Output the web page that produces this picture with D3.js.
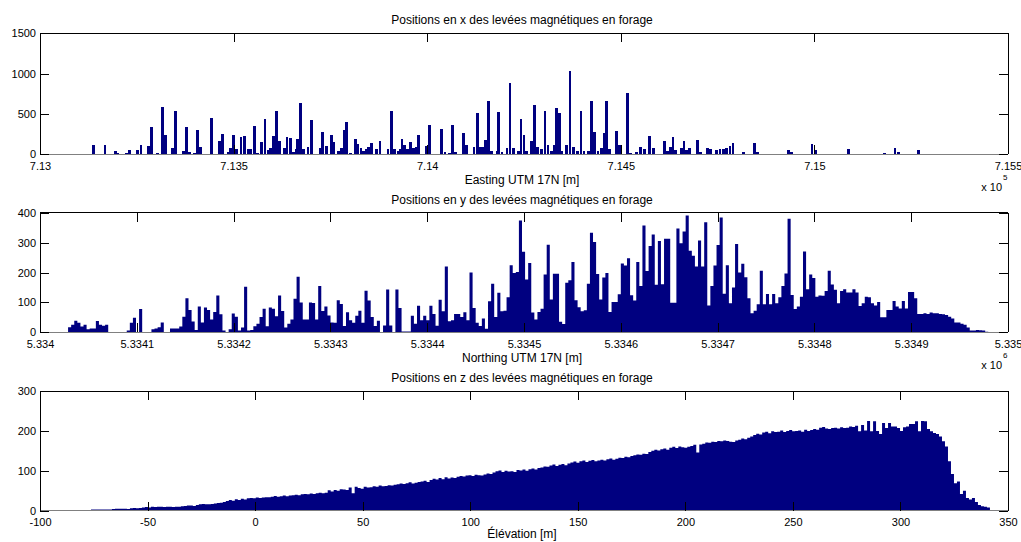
<!DOCTYPE html>
<html><head><meta charset="utf-8">
<script src="https://cdn.jsdelivr.net/npm/d3@7"></script>
<style>
body{margin:0;background:#fff}
text{font-family:"Liberation Sans",Arial,Helvetica,sans-serif;fill:#000}
</style>
</head><body>
<svg id="chart" width="1021" height="542"></svg>
<script>
// ---------- Panel 1 : Easting (sparse histogram, bin centres in m) ----------
const eastBinWidth = 7.15;
const eastCenters = [713139,713168,713195,713201,713224,713232,713252,713261,713280,713288,713303,713316,713324,713343,713350,713371,713379,713387,713400,713407,713415,713443,713464,713472,713486,713492,713499,713507,713519,713529,713537,713544,713553,713561,713573,713581,713589,713595,713603,713610,713618,713631,713638,713646,713654,713661,713666,713673,713681,713692,713702,713723,713730,713739,713752,713759,713770,
713778,713785,713792,713801,713814,713821,713829,713836,713842,713849,713857,713870,713878,713899,713907,713915,713925,713931,713935,713942,713949,713956,713964,713971,713978,713997,714005,714037,714046,714058,714066,714073,714093,714101,714121,714130,714137,714144,714150,714158,714166,714181,714185,714193,714206,714214,714222,714235,714242,714250,714257,714269,714277,714284,714295,714304,714312,714321,714328,714334,714341,714348,714360,714369,714377,714388,714397,714405,714417,714425,714433,714441,714451,714457,714463,714470,714489,714497,714518,714526,714541,714550,714562,714575,714584,714612,714621,
714629,714635,714642,714656,714663,714670,714678,714698,714706,714723,714731,714747,714756,714765,714773,714782,714790,714816,714846,714854,714934,714941,714994,715002,715089,715182,715208,715217,715268];
const eastCounts = [108,110,37,15,15,50,50,110,100,330,15,590,230,75,540,35,330,25,15,295,85,450,160,245,25,75,230,60,210,220,65,60,350,15,155,440,45,75,225,540,165,80,210,200,25,65,190,640,60,85,420,80,270,100,230,150,35,
75,295,400,12,190,130,75,33,58,83,137,58,157,58,534,58,33,66,190,116,58,150,75,87,232,100,356,306,25,17,356,25,265,108,91,513,91,87,170,662,33,33,522,25,75,886,75,33,430,240,33,157,604,87,58,538,108,33,116,571,513,33,108,1027,87,33,538,33,33,662,273,33,75,265,654,66,282,116,762,12,25,83,58,220,75,166,33,
91,207,50,70,166,50,70,174,29,79,58,54,62,62,79,100,132,29,141,25,50,29,124,50,66,17,70,29,50];
const eastTicks = [713000,713500,714000,714500,715000,715500];
const eastTickLabels = ["7.13","7.135","7.14","7.145","7.15","7.155"];
const eastCountTicks = [0,500,1000,1500];

// ---------- Panel 2 : Northing (contiguous histogram) ----------
const northStart = 5334029;
const northBinWidth = 3.19;
const northCounts = [17,25,39,32,19,25,10,13,13,38,25,22,25,0,0,0,0,0,0,6,32,49,0,78,0,0,0,10,13,17,33,0,0,13,13,13,19,52,114,75,36,8,86,33,83,75,43,68,123,60,6,0,10,63,52,6,16,152,6,8,20,29,51,79,20,83,79,54,123,71,16,29,43,112,186,100,43,43,100,98,43,155,71,86,56,33,
32,107,95,21,67,40,32,55,72,32,139,106,51,21,39,0,23,143,23,0,143,81,3,3,3,55,29,89,40,55,40,89,61,22,109,70,220,37,40,61,61,51,67,40,200,81,32,21,46,12,104,162,51,132,70,72,117,224,198,202,374,269,177,232,66,43,68,79,193,293,110,196,196,35,28,166,174,235,107,84,70,74,162,333,302,195,110,183,198,68,101,101,127,230,223,248,124,106,235,155,357,205,289,327,159,305,161,313,313,
99,99,347,298,337,391,273,256,220,307,220,368,90,155,223,292,384,129,224,97,150,295,200,229,184,114,64,72,94,206,94,128,94,128,97,117,155,197,380,125,78,86,119,270,144,193,182,119,123,122,138,206,160,142,97,138,144,133,133,144,133,88,97,119,117,97,90,101,50,50,75,75,105,86,80,105,80,135,135,114,61,61,64,61,66,64,64,61,60,58,52,46,33,33,29,25,16,6,6,8,7,6,2];
const northTicks = [5334000,5334100,5334200,5334300,5334400,5334500,5334600,5334700,5334800,5334900,5335000];
const northTickLabels = ["5.334","5.3341","5.3342","5.3343","5.3344","5.3345","5.3346","5.3347","5.3348","5.3349","5.335"];
const northCountTicks = [0,100,200,300,400];

// ---------- Panel 3 : Elevation (contiguous histogram) ----------
const elevStart = -76.3;
const elevBinWidth = 1.393;
const elevCounts = [3,3,3,3,3,3,3,4,5,5, 5,5,4,6,7,6,7,8,9,8, 10,9,10,10,9,10,10,9,10,10, 11,12,13,13,12,14,16,17,16,16,
17,18,19,20,22,24,27,25,29,27, 30,28,31,32,31,33,32,33,34,34, 35,37,35,36,38,36,38,39,40,39, 41,42,41,43,42,44,45,44,
45,51,48,52,50,54,53,52,58,44,60,57, 55,60,58,59,61,60,63,61,62,64, 63,65,66,68,67,69,71,68,70,72, 73,75,72,77,80,78,82,79,84,81,
83,82,85,87,86,88,89,87,90,89, 88,91,93,92,96,99,101,97,100,98, 99,97,102,101,103,100,104,106,103,107, 108,111,110,113,116,112,115,117,114,118,
121,123,120,124,126,122,125,127,124,126, 128,126,129,131,128,130,133,132,135,134, 137,139,141,140,143,142,147,150,153,151, 154,156,153,158,160,157,161,159,158,160,
162,165,146,166,168,171,170,173,172,175, 174,176,175,173,172,176,178,181,179,183, 186,190,193,191,196,198,194,199,197,198, 201,197,200,202,199,200,201,198,203,200,
202,205,203,208,210,206,205,207,208,206, 209,207,208,211,210,213,
199,215,201,225,199,224,200,192,220,207,220,211,211,207,200,209,211,217,217,224,199,225,224,205,199,195,192,186,174,161,124,92,69,73,42,50,32,28,32,22,14,11,10,8];
const elevTicks = [-100,-50,0,50,100,150,200,250,300,350];
const elevTickLabels = ["-100","-50","0","50","100","150","200","250","300","350"];
const elevCountTicks = [0,100,200,300];

// ---------- Texts ----------
const titles = ["Positions en x des levées magnétiques en forage","Positions en y des levées magnétiques en forage","Positions en z des levées magnétiques en forage"];
const xLabels = ["Easting UTM 17N [m]","Northing UTM 17N [m]","Élévation [m]"];
const exponents = ["5","6",null];

// ---------- Drawing ----------
const svg = d3.select("#chart");
const L = 40, R = 1008;
const BAR = "#000080";
const FONT = 11;
const LABEL_FONT = 12;

function drawPanel(cfg, idx) {
  const x = d3.scaleLinear().domain(cfg.xDomain).range([L, R]);
  const y = d3.scaleLinear().domain([0, cfg.yMax]).range([cfg.bottom, cfg.top]);
  const g = svg.append("g");

  cfg.bars(g, x, y);

  // box
  const box = g.append("g").attr("shape-rendering", "crispEdges");
  box.append("line").attr("x1", L).attr("x2", R).attr("y1", cfg.top).attr("y2", cfg.top).attr("stroke", "#000");
  box.append("line").attr("x1", L).attr("x2", L).attr("y1", cfg.top).attr("y2", cfg.bottom).attr("stroke", "#000");
  box.append("line").attr("x1", R).attr("x2", R).attr("y1", cfg.top).attr("y2", cfg.bottom).attr("stroke", "#000");
  box.append("line").attr("x1", L).attr("x2", R).attr("y1", y(0)).attr("y2", y(0)).attr("stroke", "#808080");

  const style = s => s.attr("font-size", FONT).attr("font-family", "Liberation Sans, Arial, sans-serif").attr("shape-rendering", "crispEdges");

  const bottomAx = g.append("g").attr("transform", `translate(0,${cfg.bottom})`)
    .call(d3.axisBottom(x).tickValues(cfg.xTicks).tickFormat((d, i) => cfg.xTickLabels[i]).tickSize(-9).tickSizeOuter(0).tickPadding(8));
  style(bottomAx); bottomAx.select(".domain").remove();

  const topAx = g.append("g").attr("transform", `translate(0,${cfg.top})`)
    .call(d3.axisTop(x).tickValues(cfg.xTicks).tickFormat("").tickSize(-9).tickSizeOuter(0));
  style(topAx); topAx.select(".domain").remove();

  const leftAx = g.append("g").attr("transform", `translate(${L},0)`)
    .call(d3.axisLeft(y).tickValues(cfg.yTicks).tickFormat(d3.format("d")).tickSize(-9).tickSizeOuter(0).tickPadding(4));
  style(leftAx); leftAx.select(".domain").remove();

  const rightAx = g.append("g").attr("transform", `translate(${R},0)`)
    .call(d3.axisRight(y).tickValues(cfg.yTicks).tickFormat("").tickSize(-9).tickSizeOuter(0));
  style(rightAx); rightAx.select(".domain").remove();

  // title
  g.append("text").attr("x", (L + R) / 2 - 2).attr("y", cfg.top - 9).attr("text-anchor", "middle")
    .attr("font-size", LABEL_FONT).text(titles[idx]);
  // x label
  g.append("text").attr("x", (L + R) / 2 - 2).attr("y", cfg.bottom + cfg.labelGap).attr("text-anchor", "middle")
    .attr("font-size", LABEL_FONT).text(xLabels[idx]);
  // exponent
  if (exponents[idx]) {
    g.append("text").attr("x", 1002).attr("y", cfg.bottom + 37).attr("text-anchor", "end")
      .attr("font-size", FONT).text("x 10");
    g.append("text").attr("x", 1003).attr("y", cfg.bottom + 26).attr("text-anchor", "start")
      .attr("font-size", 8).text(exponents[idx]);
  }
}

function stepArea(g, x, y, start, width, counts) {
  const pts = counts.map((c, i) => ({ e: start + i * width, c }));
  pts.push({ e: start + counts.length * width, c: counts[counts.length - 1] });
  const area = d3.area().x(d => x(d.e)).y0(y(0)).y1(d => y(d.c)).curve(d3.curveStepAfter);
  g.append("path").datum(pts).attr("d", area).attr("fill", BAR);
}

const panels = [
  { top: 33.3, bottom: 154, labelGap: 30, xDomain: [713000, 715500], yMax: 1500, xTicks: eastTicks, xTickLabels: eastTickLabels, yTicks: eastCountTicks,
    bars: (g, x, y) => {
      g.append("g").attr("shape-rendering", "crispEdges").selectAll("rect").data(eastCenters).join("rect")
        .attr("x", d => x(d - eastBinWidth / 2))
        .attr("width", d => x(d + eastBinWidth / 2) - x(d - eastBinWidth / 2))
        .attr("y", (d, i) => y(eastCounts[i]))
        .attr("height", (d, i) => y(0) - y(eastCounts[i]))
        .attr("fill", BAR);
    } },
  { top: 212.7, bottom: 332.3, labelGap: 30, xDomain: [5334000, 5335000], yMax: 400, xTicks: northTicks, xTickLabels: northTickLabels, yTicks: northCountTicks,
    bars: (g, x, y) => stepArea(g, x, y, northStart, northBinWidth, northCounts) },
  { top: 391, bottom: 510.7, labelGap: 27, xDomain: [-100, 350], yMax: 300, xTicks: elevTicks, xTickLabels: elevTickLabels, yTicks: elevCountTicks,
    bars: (g, x, y) => stepArea(g, x, y, elevStart, elevBinWidth, elevCounts) }
];
panels.forEach(drawPanel);
</script>
</body></html>
